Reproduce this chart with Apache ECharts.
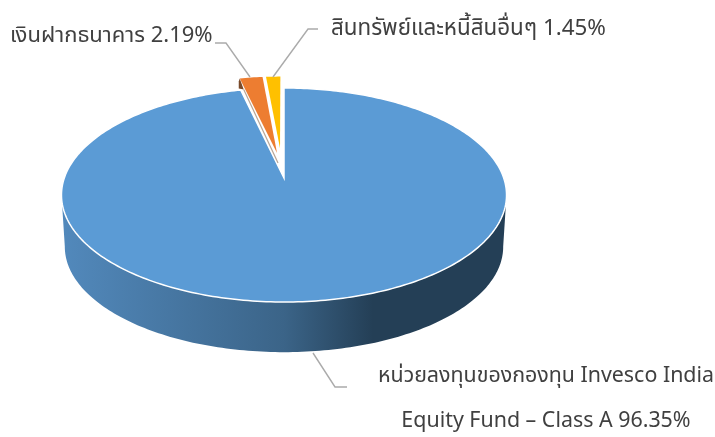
<!DOCTYPE html>
<html><head><meta charset="utf-8">
<style>html,body{margin:0;padding:0;background:#fff}#c{width:715px;height:437px}</style>
<script src="https://cdn.jsdelivr.net/npm/echarts@6/dist/echarts.min.js"></script>
</head><body><div id="c"></div>
<script>
const categories = ['หน่วยลงทุนของกองทุน Invesco India\nEquity Fund – Class A', 'เงินฝากธนาคาร', 'สินทรัพย์และหนี้สินอื่นๆ'];
const values = [96.35, 2.19, 1.45];
const colors = ['#5B9BD5', '#ED7D31', '#FFC000'];

// projection of the pie plane
const apexX = 284, apexY = 178, S = 219.7, K = 104.3, U = 0.159;
const explode = [[0, 0, 1], [-0.033, -0.249, 0.9], [-0.019, -0.30, 0.85]];
const total = 100;
function proj(X, Y, dy, s) {
  const d = 1 - U * Y;
  return [apexX + s * S * X / d, apexY + dy + s * K * Y / d];
}
function rim(a, e, dy, s) {
  const r = a * Math.PI / 180;
  return proj(e[0] + e[2] * Math.sin(r), e[1] - e[2] * Math.cos(r), dy, s);
}
function arc(from, to, e, dy, s) {
  const pts = [], n = Math.max(2, Math.ceil(Math.abs(to - from)));
  for (let i = 0; i <= n; i++) pts.push(rim(from + (to - from) * i / n, e, dy, s));
  return pts;
}
const labelPos = [
  { x: 546, y: 400, size: 21.4, line: [[313, 353], [335, 387], [347, 387]], align: 'center', lh: 45 },
  { x: 10, y: 38, size: 22, line: [[215, 43], [226, 43], [250, 77]], align: 'left', lh: 24 },
  { x: 331, y: 30, size: 22.4, line: [[318, 29], [308, 29], [273, 77]], align: 'left', lh: 24 }
];
const textColor = '#404040', lineColor = '#ABABAB', font = '"Noto Sans Thai","Noto Sans","DejaVu Sans",sans-serif';

function renderItem(params, api) {
  const i = params.dataIndex, v = api.value(0);
  let start = 0;
  for (let j = 0; j < i; j++) start += values[j];
  const a0 = start / total * 360, a1 = (start + v) / total * 360, e = explode[i];
  const apex = proj(e[0], e[1], 0, 1);
  const children = [];
  if (i === 0) {
    const top = arc(99, 261, e, 0, 1), low = arc(261, 99, e, 52, 0.985);
    children.push({ type: 'polygon', z2: 1, shape: { points: top.concat(low) }, style: {
      fill: { type: 'linear', x: 0, y: 0, x2: 1, y2: 0, colorStops: [
        { offset: 0, color: '#5289BC' }, { offset: 0.5, color: '#3B6488' },
        { offset: 0.7, color: '#243F56' }, { offset: 1, color: '#243F56' }] } } });
  }
  if (i === 1) {
    const p = rim(a0, e, 0, 1);
    children.push({ type: 'polygon', z2: 2, shape: { points: [p, [p[0] + 4, p[1] + 11], [p[0] - 1, p[1] + 10], [p[0] - 1, p[1] + 3]] }, style: { fill: '#7A4A2A' } });
    children.push({ type: 'line', z2: 5, shape: { x1: p[0] + 4, y1: p[1] + 11, x2: apex[0] + 1, y2: apex[1] + 10 }, style: { stroke: '#B8A595', lineWidth: 1.2 } });
  }
  children.push({ type: 'polygon', z2: i === 0 ? 3 : 4, shape: { points: [apex].concat(arc(a0, a1, e, 0, 1)) },
    style: { fill: colors[i], stroke: '#fff', lineWidth: i === 0 ? 1.5 : 0 } });
  const L = labelPos[i];
  children.push({ type: 'polyline', z2: 6, shape: { points: L.line }, style: { stroke: lineColor, lineWidth: 1.4, fill: null } });
  children.push({ type: 'text', z2: 7, x: L.x, y: L.y, style: {
    text: categories[i] + ' ' + v.toFixed(2) + '%', fill: textColor, fontFamily: font, fontSize: L.size,
    align: L.align, verticalAlign: 'middle', lineHeight: L.lh } });
  return { type: 'group', children };
}

const chart = echarts.init(document.getElementById('c'));
chart.setOption({
  animation: false,
  backgroundColor: '#fff',
  xAxis: { show: false }, yAxis: { show: false },
  series: [{ type: 'custom', coordinateSystem: 'none', silent: true, renderItem, data: values.map(v => [v]), clip: false }]
});
</script></body></html>
